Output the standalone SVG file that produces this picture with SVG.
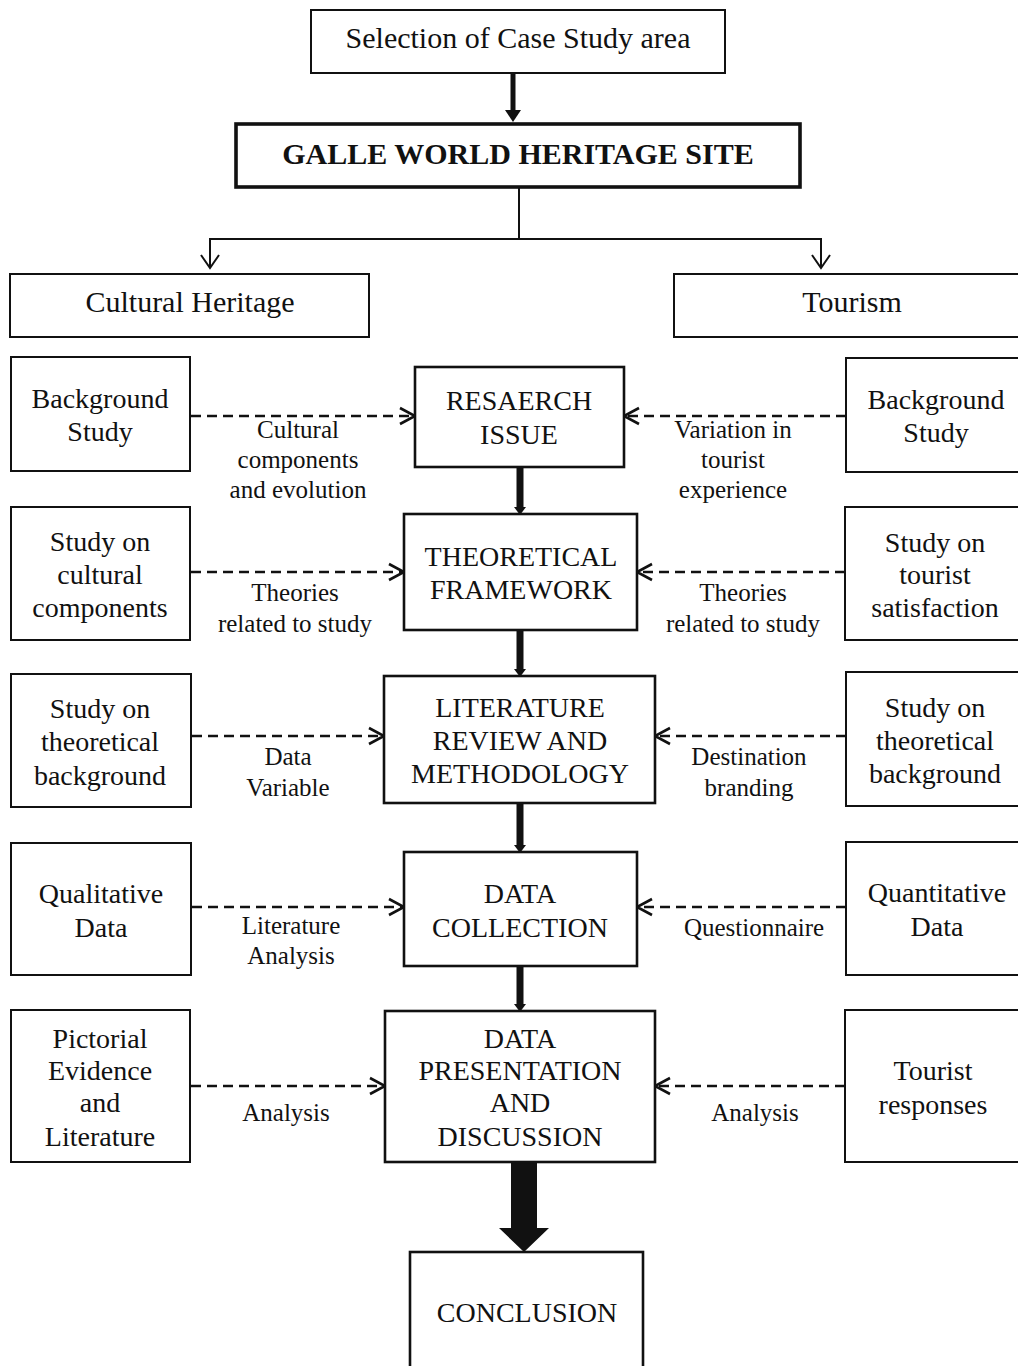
<svg xmlns="http://www.w3.org/2000/svg" width="1018" height="1366" viewBox="0 0 1018 1366">
<style>
  .box{fill:#fff;stroke:#111;stroke-width:2}
  .cbox{fill:#fff;stroke:#111;stroke-width:2.6}
  .main{fill:#fff;stroke:#111;stroke-width:3.6}
  text{font-family:"Liberation Serif","Times New Roman",serif;fill:#111;text-anchor:middle}
  .t30{font-size:30px}
  .tb{font-size:30px;font-weight:bold}
  .t28{font-size:28px}
  .lbl{font-size:25px}
  .dash{fill:none;stroke:#111;stroke-width:2.6;stroke-dasharray:10 6}
  .thin{fill:none;stroke:#111;stroke-width:2}
  .thick{fill:none;stroke:#111;stroke-width:7}
</style>
<defs>
  <marker id="open" viewBox="0 0 20 20" refX="17" refY="10" markerWidth="20" markerHeight="20" markerUnits="userSpaceOnUse" orient="auto">
    <path d="M2,2 L17,10 L2,18" fill="none" stroke="#111" stroke-width="2.6"/>
  </marker>
  <marker id="openS" viewBox="0 0 20 20" refX="17" refY="10" markerWidth="20" markerHeight="20" markerUnits="userSpaceOnUse" orient="auto">
    <path d="M4,1 L17,10 L4,19" fill="none" stroke="#111" stroke-width="2"/>
  </marker>
  <marker id="tip" viewBox="0 0 10 12" refX="0" refY="6" markerWidth="10" markerHeight="12" markerUnits="userSpaceOnUse" orient="auto">
    <path d="M0,0 L8,6 L0,12 Z" fill="#111"/>
  </marker>
  <marker id="tipBig" viewBox="0 0 14 16" refX="0" refY="8" markerWidth="14" markerHeight="16" markerUnits="userSpaceOnUse" orient="auto">
    <path d="M0,0 L12,8 L0,16 Z" fill="#111"/>
  </marker>
</defs>
<rect width="1018" height="1366" fill="#fff"/>

<g id="connectors">
  <line class="thick" x1="513" y1="73" x2="513" y2="110" style="stroke-width:5" marker-end="url(#tipBig)"/>
  <line class="thin" x1="519" y1="187" x2="519" y2="239"/>
  <line class="thin" x1="209" y1="239" x2="822" y2="239"/>
  <line class="thin" x1="210" y1="238" x2="210" y2="268" marker-end="url(#openS)"/>
  <line class="thin" x1="821" y1="238" x2="821" y2="268" marker-end="url(#openS)"/>

  <line class="thick" x1="520" y1="467" x2="520" y2="507" marker-end="url(#tip)"/>
  <line class="thick" x1="520" y1="630" x2="520" y2="669" marker-end="url(#tip)"/>
  <line class="thick" x1="520" y1="803" x2="520" y2="845" marker-end="url(#tip)"/>
  <line class="thick" x1="520" y1="966" x2="520" y2="1004" marker-end="url(#tip)"/>
  <polygon points="511,1163 537,1163 537,1228 549,1228 524,1252 499,1228 511,1228" fill="#111"/>

  <line class="dash" x1="191" y1="416" x2="415" y2="416" marker-end="url(#open)"/>
  <line class="dash" x1="846" y1="416" x2="624" y2="416" marker-end="url(#open)"/>
  <line class="dash" x1="191" y1="572" x2="404" y2="572" marker-end="url(#open)"/>
  <line class="dash" x1="845" y1="572" x2="637" y2="572" marker-end="url(#open)"/>
  <line class="dash" x1="192" y1="736" x2="384" y2="736" marker-end="url(#open)"/>
  <line class="dash" x1="846" y1="736" x2="655" y2="736" marker-end="url(#open)"/>
  <line class="dash" x1="192" y1="907" x2="404" y2="907" marker-end="url(#open)"/>
  <line class="dash" x1="846" y1="907" x2="637" y2="907" marker-end="url(#open)"/>
  <line class="dash" x1="191" y1="1086" x2="385" y2="1086" marker-end="url(#open)"/>
  <line class="dash" x1="845" y1="1086" x2="655" y2="1086" marker-end="url(#open)"/>

  <g id="labels">
    <text class="lbl" x="298" y="438">Cultural</text>
    <text class="lbl" x="298" y="468">components</text>
    <text class="lbl" x="298" y="498">and evolution</text>
    <text class="lbl" x="733" y="438">Variation in</text>
    <text class="lbl" x="733" y="468">tourist</text>
    <text class="lbl" x="733" y="498">experience</text>
    <text class="lbl" x="295" y="601">Theories</text>
    <text class="lbl" x="295" y="632">related to study</text>
    <text class="lbl" x="743" y="601">Theories</text>
    <text class="lbl" x="743" y="632">related to study</text>
    <text class="lbl" x="288" y="765">Data</text>
    <text class="lbl" x="288" y="796">Variable</text>
    <text class="lbl" x="749" y="765">Destination</text>
    <text class="lbl" x="749" y="796">branding</text>
    <text class="lbl" x="291" y="934">Literature</text>
    <text class="lbl" x="291" y="964">Analysis</text>
    <text class="lbl" x="754" y="936">Questionnaire</text>
    <text class="lbl" x="286" y="1121">Analysis</text>
    <text class="lbl" x="755" y="1121">Analysis</text>
  </g>
</g>

<g id="selection">
  <rect class="box" x="311" y="10" width="414" height="63"/>
  <text class="t30" x="518" y="48">Selection of Case Study area</text>
</g>
<g id="galle">
  <rect class="main" x="236" y="124" width="564" height="63"/>
  <text class="tb" x="518" y="164">GALLE WORLD HERITAGE SITE</text>
</g>
<g id="cultural-heritage">
  <rect class="box" x="10" y="274" width="359" height="63"/>
  <text class="t30" x="190" y="312">Cultural Heritage</text>
</g>
<g id="tourism">
  <rect class="box" x="674" y="274" width="360" height="63"/>
  <text class="t30" x="852" y="312">Tourism</text>
</g>

<g id="l-background">
  <rect class="box" x="11" y="357" width="179" height="114"/>
  <text class="t28" x="100" y="408">Background</text>
  <text class="t28" x="100" y="441">Study</text>
</g>
<g id="l-cultural-components">
  <rect class="box" x="11" y="507" width="179" height="133"/>
  <text class="t28" x="100" y="551">Study on</text>
  <text class="t28" x="100" y="584">cultural</text>
  <text class="t28" x="100" y="617">components</text>
</g>
<g id="l-theoretical">
  <rect class="box" x="11" y="674" width="180" height="133"/>
  <text class="t28" x="100" y="718">Study on</text>
  <text class="t28" x="100" y="751">theoretical</text>
  <text class="t28" x="100" y="785">background</text>
</g>
<g id="l-qualitative">
  <rect class="box" x="11" y="843" width="180" height="132"/>
  <text class="t28" x="101" y="903">Qualitative</text>
  <text class="t28" x="101" y="937">Data</text>
</g>
<g id="l-pictorial">
  <rect class="box" x="11" y="1010" width="179" height="152"/>
  <text class="t28" x="100" y="1048">Pictorial</text>
  <text class="t28" x="100" y="1080">Evidence</text>
  <text class="t28" x="100" y="1112">and</text>
  <text class="t28" x="100" y="1146">Literature</text>
</g>

<g id="research-issue">
  <rect class="cbox" x="415" y="367" width="209" height="100"/>
  <text class="t28" x="519" y="410">RESAERCH</text>
  <text class="t28" x="519" y="444">ISSUE</text>
</g>
<g id="theoretical-framework">
  <rect class="cbox" x="404" y="514" width="233" height="116"/>
  <text class="t28" x="521" y="566">THEORETICAL</text>
  <text class="t28" x="521" y="599">FRAMEWORK</text>
</g>
<g id="literature-review">
  <rect class="cbox" x="384" y="676" width="271" height="127"/>
  <text class="t28" x="520" y="717">LITERATURE</text>
  <text class="t28" x="520" y="750">REVIEW AND</text>
  <text class="t28" x="520" y="783">METHODOLOGY</text>
</g>
<g id="data-collection">
  <rect class="cbox" x="404" y="852" width="233" height="114"/>
  <text class="t28" x="520" y="903">DATA</text>
  <text class="t28" x="520" y="937">COLLECTION</text>
</g>
<g id="data-presentation">
  <rect class="cbox" x="385" y="1011" width="270" height="151"/>
  <text class="t28" x="520" y="1048">DATA</text>
  <text class="t28" x="520" y="1080">PRESENTATION</text>
  <text class="t28" x="520" y="1112">AND</text>
  <text class="t28" x="520" y="1146">DISCUSSION</text>
</g>
<g id="conclusion">
  <rect class="cbox" x="410" y="1252" width="233" height="130"/>
  <text class="t28" x="527" y="1322">CONCLUSION</text>
</g>

<g id="r-background">
  <rect class="box" x="846" y="358" width="190" height="114"/>
  <text class="t28" x="936" y="409">Background</text>
  <text class="t28" x="936" y="442">Study</text>
</g>
<g id="r-satisfaction">
  <rect class="box" x="845" y="507" width="190" height="133"/>
  <text class="t28" x="935" y="552">Study on</text>
  <text class="t28" x="935" y="584">tourist</text>
  <text class="t28" x="935" y="617">satisfaction</text>
</g>
<g id="r-theoretical">
  <rect class="box" x="846" y="672" width="190" height="134"/>
  <text class="t28" x="935" y="717">Study on</text>
  <text class="t28" x="935" y="750">theoretical</text>
  <text class="t28" x="935" y="783">background</text>
</g>
<g id="r-quantitative">
  <rect class="box" x="846" y="842" width="190" height="133"/>
  <text class="t28" x="937" y="902">Quantitative</text>
  <text class="t28" x="937" y="936">Data</text>
</g>
<g id="r-responses">
  <rect class="box" x="845" y="1010" width="190" height="152"/>
  <text class="t28" x="933" y="1080">Tourist</text>
  <text class="t28" x="933" y="1114">responses</text>
</g>
</svg>
